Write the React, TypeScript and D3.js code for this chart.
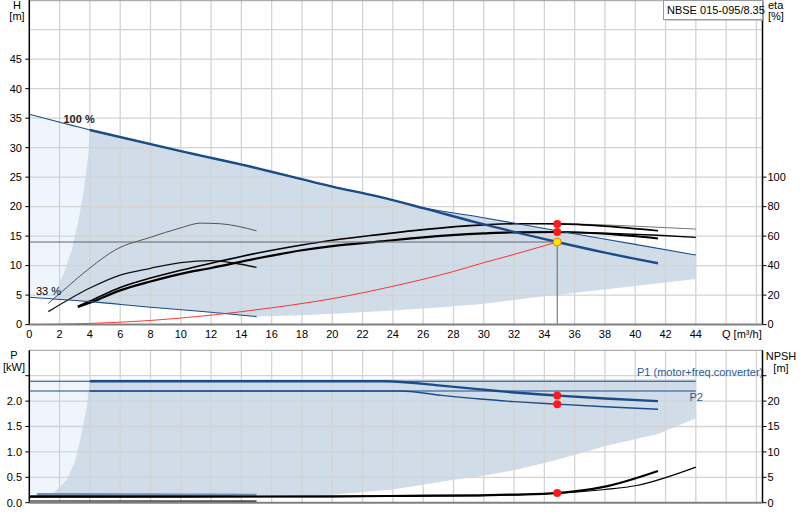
import React from 'react';
import * as d3 from 'd3';

type Pt = [number, number];

// ---- H / eta chart (Q in m³/h, H in m, eta in %)
const maxLimit: Pt[] = [[0, 35.66], [4, 33.0], [10, 29.4], [14.57, 26.8], [20, 23.4], [23.2, 21.6], [26, 19.8], [29.7, 18.25], [34.85, 15.9], [40, 13.6], [44, 11.8]];
const speed100: Pt[] = [[4, 33.0], [10, 29.4], [14.57, 26.8], [20, 23.4], [23.2, 21.6], [26, 19.75], [29.7, 17.2], [34.85, 14.0], [38, 12.2], [41.5, 10.4]];
const speed33: Pt[] = [[0, 4.65], [4, 3.9], [8, 2.95], [12, 2.1], [15, 1.36]];
const leftEdgeH: Pt[] = [[1.6, 4.35], [1.92, 6.45], [2.36, 9.3], [2.8, 12.7], [3.24, 17.7], [3.57, 22.3], [3.9, 29.0], [4.0, 33.0]];
const bottomEdgeH: Pt[] = [[15, 1.36], [18, 1.6], [21, 1.95], [24, 2.4], [27, 2.9], [29.7, 3.47], [33, 4.5], [36.8, 5.6], [40, 6.55], [44, 7.75]];
const systemCurve: Pt[] = [[0.3, 0.0], [4, 0.2], [8, 0.7], [12, 1.6], [16, 2.85], [20, 4.4], [24, 6.5], [28, 9.0], [30, 10.5], [32, 11.9], [34.85, 14.0]];

const etaPump33: Pt[] = [[1.25, 14.4], [2, 21], [4, 38.4], [5.7, 50.8], [8, 59.2], [10, 65.6], [11.3, 68.8], [12.6, 68.4], [15, 63.6]];
const etaTotal33: Pt[] = [[1.26, 8.8], [4, 24.8], [6, 33.6], [8, 38.2], [10, 42], [12, 43.4], [13.6, 41.6], [15, 38.8]];
const etaPump100: Pt[] = [[3.2, 12.4], [4, 16], [6, 25.2], [8, 31.6], [10, 36.8], [12, 41.6], [15, 48.4], [18, 54], [20, 57.2], [23.2, 61.2], [26, 64.4], [30, 67.6], [32, 68.4], [34.85, 68.3], [38, 66.8], [41.5, 63.6]];
const etaTotal100: Pt[] = [[3.2, 12], [4, 14.8], [6, 23.2], [8, 29.2], [10, 34.4], [12, 38.4], [15, 44.8], [18, 50.4], [20, 53.2], [23.2, 56.4], [26, 59.2], [30, 61.8], [32, 62.6], [34.85, 62.8], [38, 61.6], [41.5, 58.4]];
const etaPumpExt: Pt[] = [[32, 68.6], [35, 68.4], [38, 67.6], [41.5, 66], [44, 64.8]];
const etaTotalExt: Pt[] = [[34.85, 62.8], [38, 62], [41.5, 60.6], [44, 59.2]];

const dutyQ = 34.85;
const dutyH = 14.0;
const dutyEta = [68.3, 62.8];

// ---- P / NPSH chart (P in kW, NPSH in m)
const p1Limit: Pt[] = [[0, 2.39], [44, 2.39]];
const p2Limit: Pt[] = [[0, 2.2], [44, 2.2]];
const p1Curve: Pt[] = [[4, 2.39], [23.5, 2.39], [27, 2.31], [29.76, 2.23], [32, 2.17], [34.85, 2.11], [38, 2.05], [41.5, 2.0]];
const p2Curve: Pt[] = [[4, 2.2], [24.5, 2.2], [27, 2.12], [29.76, 2.04], [32, 1.99], [34.85, 1.94], [38, 1.89], [41.5, 1.84]];
const p1Low: Pt[] = [[0.5, 0.16], [4, 0.16], [8, 0.155], [12, 0.15], [15, 0.145]];
const p2Low: Pt[] = [[0, 0.135], [6, 0.13], [10, 0.13], [13.5, 0.128]];
const leftEdgeP: Pt[] = [[1.5, 0.16], [2.0, 0.31], [2.47, 0.45], [3.0, 0.8], [3.35, 1.23], [3.79, 1.89], [4.0, 2.43]];
const bottomEdgeP: Pt[] = [[15, 0.145], [15.25, 0.1], [19.6, 0.145], [24, 0.26], [28, 0.45], [29.76, 0.52], [32, 0.64], [34.8, 0.84], [38.1, 1.12], [41.5, 1.35], [44, 1.66]];
const npshCurve: Pt[] = [[0, 1.2], [10, 1.2], [20, 1.25], [25, 1.35], [29.76, 1.46], [32, 1.6], [34.85, 1.9], [38, 3.15], [41.5, 6.24]];
const npshLimit: Pt[] = [[0, 1.15], [20, 1.2], [29.76, 1.4], [34.85, 1.85], [38, 2.6], [40.1, 3.4], [44, 7.0]];
const npshLow: Pt[] = [[0, 0.33], [15, 0.3]];
const dutyP = [2.11, 1.94];
const dutyNpsh = 1.9;

const qTicks = d3.range(0, 45, 2);
const hTicks = d3.range(0, 50, 5);
const etaTicks = [0, 20, 40, 60, 80, 100];
const pTicks = [0, 0.5, 1.0, 1.5, 2.0];
const npshTicks = [0, 5, 10, 15, 20];

const FONT = 'Liberation Sans, Arial, sans-serif';
const BLUE = '#1b4c8a';
const SHADE = '#d0dce8';
const LIGHT = '#eef5fc';
const GRID = '#d3d3d3';

const x = d3.scaleLinear().domain([0, 48.4]).range([29.3, 762.5]);
const yH = d3.scaleLinear().domain([0, 55]).range([324.6, 0.2]);
const yEta = d3.scaleLinear().domain([0, 100]).range([yH(0), yH(25)]);
const yP = d3.scaleLinear().domain([0, 3]).range([502.7, 350.3]);
const yN = d3.scaleLinear().domain([0, 30]).range([502.7, 350.3]);

type Scale = d3.ScaleLinear<number, number>;

const line = (pts: Pt[], y: Scale) =>
  d3.line<Pt>().x(d => x(d[0])).y(d => y(d[1])).curve(d3.curveMonotoneX)(pts) || '';

// closed outline of a shaded range, straight segments between read points
const outline = (segs: Pt[][], y: Scale) =>
  (d3.line<Pt>().x(d => x(d[0])).y(d => y(d[1]))(segs.flat()) || '') + 'Z';

const rev = (pts: Pt[]) => pts.slice().reverse();

export default function App() {
  const x0 = x(0), x1 = x.range()[1];

  const shadeTop = outline([
    maxLimit.filter(d => d[0] >= 4),
    [[44, 7.75]],
    rev(bottomEdgeH),
    rev(speed33).filter(d => d[0] >= 2),
    leftEdgeH,
  ], yH);
  const lightTop = outline([
    maxLimit.filter(d => d[0] <= 4),
    rev(leftEdgeH),
    [[0, 4.65]],
  ], yH);

  const shadeBottom = outline([
    [[4, 2.43], [44, 2.43]],
    rev(bottomEdgeP),
    leftEdgeP,
  ], yP);
  const lightBottom = outline([
    [[0, 2.43], [4, 2.43]],
    rev(leftEdgeP),
    [[0, 0.16]],
  ], yP);

  const txt = { fontFamily: FONT, fontSize: 11, fill: '#000' } as const;

  return (
    <svg width={800} height={520} style={{ position: 'absolute', left: 0, top: 0, background: '#fff' }}>
      {/* ===== upper chart ===== */}
      <path d={lightTop} fill={LIGHT} />
      <path d={shadeTop} fill={SHADE} />
      <g stroke={GRID} strokeWidth={1.3}>
        {d3.range(2, 49, 2).map(q => <line key={'v' + q} x1={x(q)} x2={x(q)} y1={0} y2={yH(0)} />)}
        {d3.range(5, 55, 5).map(h => <line key={'h' + h} x1={x0} x2={x1} y1={yH(h)} y2={yH(h)} />)}
      </g>
      <line x1={x0} x2={x1} y1={0.7} y2={0.7} stroke="#9a9a9a" />

      {/* eta curves */}
      <path d={line(etaPump33, yEta)} fill="none" stroke="#444" strokeWidth={0.9} />
      <path d={line(etaTotal33, yEta)} fill="none" stroke="#111" strokeWidth={1.3} />
      <path d={line(etaPumpExt, yEta)} fill="none" stroke="#777" strokeWidth={1} />
      <path d={line(etaTotalExt, yEta)} fill="none" stroke="#000" strokeWidth={1.3} />
      <path d={line(etaPump100, yEta)} fill="none" stroke="#000" strokeWidth={1.6} />
      <path d={line(etaTotal100, yEta)} fill="none" stroke="#000" strokeWidth={2.2} />

      {/* H curves */}
      <path d={line(speed33, yH)} fill="none" stroke={BLUE} strokeWidth={1.1} />
      <path d={line(maxLimit, yH)} fill="none" stroke={BLUE} strokeWidth={1.1} />
      <path d={line(speed100, yH)} fill="none" stroke={BLUE} strokeWidth={2.4} />
      <path d={line(systemCurve, yH)} fill="none" stroke="#ff2020" strokeWidth={0.9} />
      <path d={`M${x0},${yH(dutyH)}H${x(dutyQ)}V${yH(0)}`} fill="none" stroke="#666" strokeWidth={1} />

      {dutyEta.map(e => <circle key={e} cx={x(dutyQ)} cy={yEta(e)} r={4} fill="#ff1a1a" />)}
      <circle cx={x(dutyQ)} cy={yH(dutyH)} r={4} fill="#ffe600" stroke="#f08000" strokeWidth={1} />

      <text {...txt} x={63.5} y={123} fontWeight="bold" fill="#222">100 %</text>
      <text {...txt} x={36} y={295}>33 %</text>

      {/* axes upper */}
      <line x1={x0} x2={x0} y1={0} y2={yH(0)} stroke="#000" strokeWidth={1.5} />
      <line x1={x1} x2={x1} y1={0} y2={yH(0)} stroke="#000" strokeWidth={1.5} />
      <line x1={x0} x2={x1} y1={yH(0)} y2={yH(0)} stroke="#808080" strokeWidth={2} />
      {hTicks.map(h => (
        <g key={h}>
          <line x1={x0 - 4} x2={x0} y1={yH(h)} y2={yH(h)} stroke="#000" />
          <text {...txt} x={22} y={yH(h)} dy="0.35em" textAnchor="end">{h}</text>
        </g>
      ))}
      {etaTicks.map(e => (
        <g key={e}>
          <line x1={x1} x2={x1 + 4} y1={yEta(e)} y2={yEta(e)} stroke="#000" />
          <text {...txt} x={x1 + 5} y={yEta(e)} dy="0.35em">{e}</text>
        </g>
      ))}
      {qTicks.map(q => (
        <text key={q} {...txt} x={x(q)} y={337.5} textAnchor="middle">{q}</text>
      ))}
      <text {...txt} x={722} y={337.5}>Q [m³/h]</text>
      <text {...txt} x={17} y={8.5} textAnchor="middle">H</text>
      <text {...txt} x={17} y={19.5} textAnchor="middle">[m]</text>
      <text {...txt} x={768} y={8.5}>eta</text>
      <text {...txt} x={768} y={20}>[%]</text>

      <rect x={665} y={1.5} width={99} height={19} fill="#a0a0a0" />
      <rect x={663.5} y={0.5} width={99} height={19} fill="#fff" stroke="#999" />
      <text {...txt} x={667} y={13.5}>NBSE 015-095/8.35</text>

      {/* ===== lower chart ===== */}
      <path d={lightBottom} fill={LIGHT} />
      <path d={shadeBottom} fill={SHADE} />
      <g stroke={GRID} strokeWidth={1.3}>
        {d3.range(2, 49, 2).map(q => <line key={'vb' + q} x1={x(q)} x2={x(q)} y1={yP(3)} y2={yP(0)} />)}
        {d3.range(0.5, 3, 0.5).map(p => <line key={'hb' + p} x1={x0} x2={x1} y1={yP(p)} y2={yP(p)} />)}
      </g>
      <line x1={x0} x2={x1} y1={yP(3)} y2={yP(3)} stroke="#9a9a9a" />

      <path d={line(p1Limit, yP)} fill="none" stroke={BLUE} strokeWidth={1.1} />
      <path d={line(p2Limit, yP)} fill="none" stroke={BLUE} strokeWidth={1.1} />
      <path d={line(p1Curve, yP)} fill="none" stroke={BLUE} strokeWidth={2.4} />
      <path d={line(p2Curve, yP)} fill="none" stroke={BLUE} strokeWidth={1.4} />
      <path d={line(p1Low, yP)} fill="none" stroke="#7890ad" strokeWidth={3} />
      <path d={line(p2Low, yP)} fill="none" stroke={BLUE} strokeWidth={1} />

      <path d={line(npshLow, yN)} fill="none" stroke="#000" strokeWidth={1.2} />
      <path d={line(npshLimit, yN)} fill="none" stroke="#000" strokeWidth={1.1} />
      <path d={line(npshCurve, yN)} fill="none" stroke="#000" strokeWidth={2.2} />

      {dutyP.map(p => <circle key={p} cx={x(dutyQ)} cy={yP(p)} r={4} fill="#ff1a1a" />)}
      <circle cx={x(dutyQ)} cy={yN(dutyNpsh)} r={4} fill="#ff1a1a" />

      <text {...txt} x={637} y={376} fill="#2a5a96">P1 (motor+freq.converter)</text>
      <text {...txt} x={689.5} y={400.5} fill="#2a5a96">P2</text>

      <line x1={x0} x2={x0} y1={yP(3)} y2={yP(0)} stroke="#000" strokeWidth={1.5} />
      <line x1={x1} x2={x1} y1={yP(3)} y2={yP(0)} stroke="#000" strokeWidth={1.5} />
      <line x1={x0} x2={x1} y1={yP(0)} y2={yP(0)} stroke="#808080" strokeWidth={2} />
      {pTicks.concat([2.5]).map(p => (
        <g key={p}>
          <line x1={x0 - 4} x2={x0} y1={yP(p)} y2={yP(p)} stroke="#000" />
          {p < 2.5 && <text {...txt} x={22} y={yP(p)} dy="0.35em" textAnchor="end">{p.toFixed(1)}</text>}
        </g>
      ))}
      {npshTicks.concat([25]).map(n => (
        <g key={n}>
          <line x1={x1} x2={x1 + 4} y1={yN(n)} y2={yN(n)} stroke="#000" />
          {n < 25 && <text {...txt} x={x1 + 5} y={yN(n)} dy="0.35em">{n}</text>}
        </g>
      ))}
      <text {...txt} x={14} y={359} textAnchor="middle">P</text>
      <text {...txt} x={14} y={371} textAnchor="middle">[kW]</text>
      <text {...txt} x={781} y={360} textAnchor="middle">NPSH</text>
      <text {...txt} x={781} y={371.5} textAnchor="middle">[m]</text>
    </svg>
  );
}
